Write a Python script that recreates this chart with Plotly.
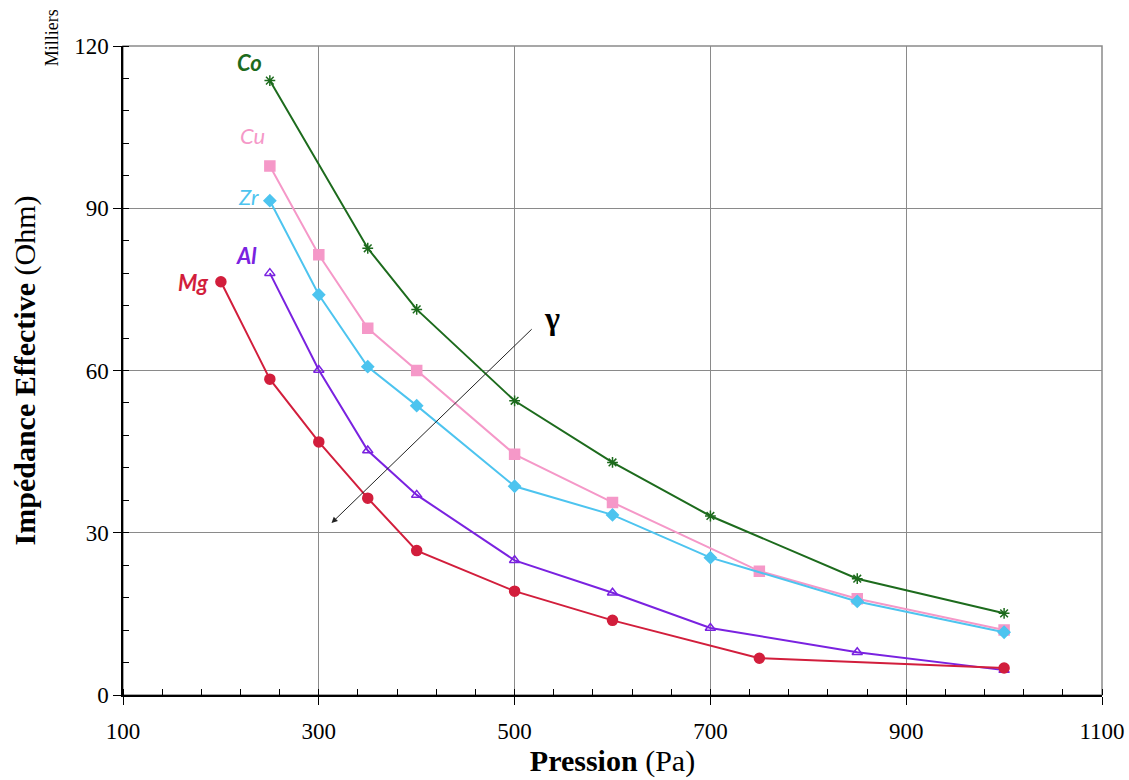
import plotly.graph_objects as go

# ---- data (values in thousands of Ohm) ----
co_x = [250, 350, 400, 500, 600, 700, 850, 1000]
co_y = [113.6, 82.6, 71.3, 54.4, 43.0, 33.1, 21.5, 15.1]

cu_x = [250, 300, 350, 400, 500, 600, 750, 850, 1000]
cu_y = [97.8, 81.4, 67.8, 60.0, 44.5, 35.6, 22.9, 17.8, 12.0]

zr_x = [250, 300, 350, 400, 500, 600, 700, 850, 1000]
zr_y = [91.4, 74.0, 60.7, 53.5, 38.6, 33.3, 25.4, 17.3, 11.6]

al_x = [250, 300, 350, 400, 500, 600, 700, 850, 1000]
al_y = [78.0, 60.1, 45.2, 37.0, 24.9, 18.9, 12.4, 7.9, 4.6]

mg_x = [200, 250, 300, 350, 400, 500, 600, 750, 1000]
mg_y = [76.4, 58.4, 46.8, 36.4, 26.7, 19.2, 13.8, 6.8, 5.0]

series = [
    ("Co", co_x, co_y, "#1d6b1d", "asterisk-open", 9),
    ("Cu", cu_x, cu_y, "#f598c8", "square", 10),
    ("Zr", zr_x, zr_y, "#4dc4ef", "diamond", 9),
    ("Al", al_x, al_y, "#7a22e0", "triangle-up-open", 9),
    ("Mg", mg_x, mg_y, "#d21e3c", "circle", 10),
]

label_pos = {"Co": (229, 117), "Cu": (232, 103.5), "Zr": (228, 92.2), "Al": (226, 81.2), "Mg": (172, 76.3)}
label_bold = {"Co": True, "Cu": False, "Zr": False, "Al": True, "Mg": True}

fig = go.Figure()
for name, xs, ys, col, sym, sz in series:
    fig.add_trace(go.Scatter(
        x=xs, y=ys, mode="lines+markers", name=name,
        line=dict(color=col, width=2),
        marker=dict(symbol=sym, size=sz, color=col,
                    line=dict(color=col, width=1.5)),
        showlegend=False,
    ))
    lx, ly = label_pos[name]
    fig.add_annotation(
        x=lx, y=ly, text=f"<b>{name}</b>" if label_bold[name] else name,
        showarrow=False, xref="x", yref="y",
        font=dict(family="Comic Sans MS, Lato, DejaVu Sans", size=22, color=col, style="italic"),
    )

# gamma arrow
fig.add_annotation(
    x=313, y=31.8, ax=519, ay=67.9, xref="x", yref="y", axref="x", ayref="y",
    showarrow=True, arrowhead=2, arrowsize=1.2, arrowwidth=1, arrowcolor="#222222", text="",
)
fig.add_annotation(
    x=538, y=69.8, xref="x", yref="y", text="<b>γ</b>", showarrow=False,
    font=dict(family="Liberation Serif", size=32, color="black"),
)

# "Milliers" unit label
fig.add_annotation(
    x=-0.0725, y=1.012, xref="paper", yref="paper", text="Milliers", textangle=-90,
    showarrow=False, xanchor="center", yanchor="middle",
    font=dict(family="Liberation Serif", size=18, color="black"),
)

# gray frame on top / right
fig.add_shape(type="rect", xref="paper", yref="paper", x0=0, y0=0, x1=1, y1=1,
              line=dict(color="#8a8a8a", width=1.5), layer="below")

fig.update_layout(
    width=1129, height=780,
    margin=dict(l=123, r=27, t=46, b=85, autoexpand=False),
    plot_bgcolor="white", paper_bgcolor="white",
    font=dict(family="Liberation Serif", color="black"),
)
fig.update_xaxes(
    range=[100, 1100], tick0=100, dtick=200,
    showgrid=True, gridcolor="#8a8a8a", gridwidth=1,
    showline=True, linecolor="black", linewidth=1.5,
    ticks="outside", ticklen=8, tickcolor="black",
    minor=dict(dtick=40, tick0=100, ticks="inside", ticklen=6, tickcolor="black", showgrid=False),
    tickfont=dict(family="Liberation Serif", size=23),
    ticklabelstandoff=7, zeroline=False, automargin=False,
    title=dict(text="<b>Pression</b> (Pa)", font=dict(family="Liberation Serif", size=30), standoff=4),
)
fig.update_yaxes(
    range=[0, 120], tick0=0, dtick=30,
    showgrid=True, gridcolor="#8a8a8a", gridwidth=1,
    showline=True, linecolor="black", linewidth=1.5,
    ticks="outside", ticklen=8, tickcolor="black",
    minor=dict(dtick=6, tick0=0, ticks="inside", ticklen=6, tickcolor="black", showgrid=False),
    tickfont=dict(family="Liberation Serif", size=23),
    zeroline=False, automargin=False,
    title=dict(text="<b>Impédance Effective</b> (Ohm)", font=dict(family="Liberation Serif", size=30), standoff=30),
)

fig.write_html("out.html")
